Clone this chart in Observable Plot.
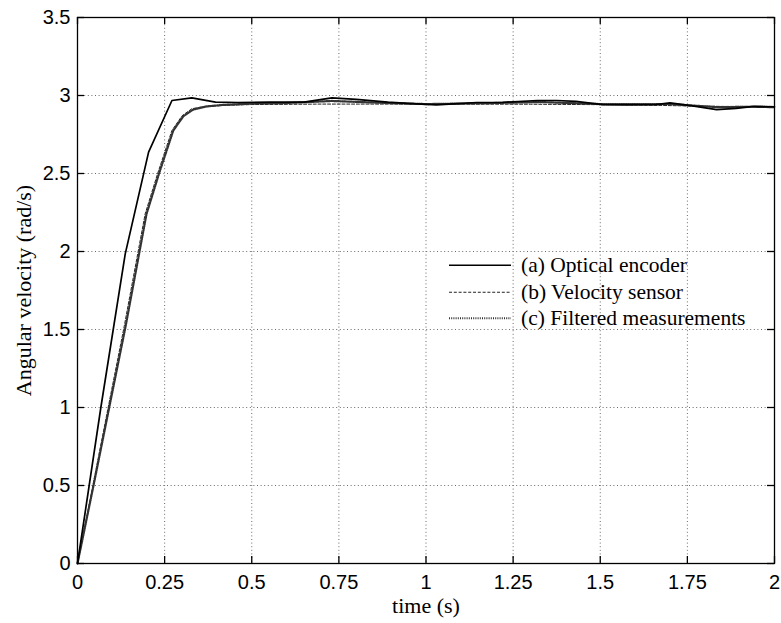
<!DOCTYPE html>
<html>
<head>
<meta charset="utf-8">
<script src="https://cdn.jsdelivr.net/npm/d3@7"></script>
<script src="https://cdn.jsdelivr.net/npm/@observablehq/plot@0.6"></script>
<style>
  html, body { margin: 0; padding: 0; background: #fff; }
  #wrap { position: relative; width: 781px; height: 623px; }
  #legend { position: absolute; left: 449px; top: 252px; font-family: "Liberation Serif", serif; font-size: 21.5px; color: #000; }
  #legend .row { position: relative; height: 26.5px; }
  #legend svg { position: absolute; left: 0; top: 0; }
  #legend span { position: absolute; left: 72px; top: 0; line-height: 26.5px; white-space: nowrap; }
</style>
</head>
<body>
<div id="wrap"></div>
<script>
// ---- data ----
const xTicks = [0, 0.25, 0.5, 0.75, 1, 1.25, 1.5, 1.75, 2];
const yTicks = [0, 0.5, 1, 1.5, 2, 2.5, 3, 3.5];

const encoderT = [0, 0.067, 0.137, 0.204, 0.271, 0.328, 0.396, 0.46, 0.55, 0.65, 0.73, 0.8, 0.89, 0.96, 1.03, 1.09, 1.146, 1.22, 1.32, 1.375, 1.43, 1.507, 1.58, 1.66, 1.70, 1.76, 1.834, 1.89, 1.94, 2.0];
const encoderV = [0, 1.0, 1.985, 2.637, 2.968, 2.985, 2.957, 2.955, 2.958, 2.958, 2.985, 2.975, 2.957, 2.948, 2.94, 2.948, 2.955, 2.956, 2.968, 2.968, 2.962, 2.942, 2.94, 2.942, 2.953, 2.935, 2.91, 2.918, 2.93, 2.928];

const sensorT = [0, 0.044, 0.088, 0.134, 0.194, 0.23, 0.271, 0.3, 0.328, 0.36, 0.414, 0.5, 0.7, 1.0, 1.3, 1.6, 1.75, 1.85, 2.0];
const sensorV = [0, 0.5, 1.0, 1.52, 2.24, 2.5, 2.776, 2.87, 2.915, 2.928, 2.936, 2.942, 2.945, 2.945, 2.944, 2.94, 2.933, 2.93, 2.93];

const filteredT = [0, 0.046, 0.091, 0.138, 0.198, 0.234, 0.275, 0.304, 0.332, 0.37, 0.42, 0.5, 0.6, 0.73, 0.85, 1.0, 1.15, 1.33, 1.5, 1.7, 1.84, 1.94, 2.0];
const filteredV = [0, 0.5, 1.0, 1.52, 2.24, 2.5, 2.776, 2.868, 2.91, 2.93, 2.94, 2.948, 2.952, 2.965, 2.955, 2.945, 2.95, 2.958, 2.945, 2.945, 2.925, 2.928, 2.925];

const seriesNames = ["(a) Optical encoder", "(b) Velocity sensor", "(c) Filtered measurements"];
const xLabel = "time (s)";
const yLabel = "Angular velocity (rad/s)";

// ---- build tables ----
const encoder = encoderT.map((t, i) => ({t, v: encoderV[i]}));
const sensor = sensorT.map((t, i) => ({t, v: sensorV[i]}));
const filtered = filteredT.map((t, i) => ({t, v: filteredV[i]}));

const W = 781, H = 623;
const mL = 77, mR = 7, mT = 17, mB = 60;
const tickPx = 7;
const xDom = [0, 2], yDom = [0, 3.5];
const tickLenY = tickPx / (H - mT - mB) * (yDom[1] - yDom[0]);
const tickLenX = tickPx / (W - mL - mR) * (xDom[1] - xDom[0]);

const gridStyle = {stroke: "#6a6a6a", strokeOpacity: 1, strokeWidth: 1, strokeDasharray: "1 2.6"};
const serif = "'Liberation Serif', 'Times New Roman', serif";

const chart = Plot.plot({
  width: W, height: H,
  marginLeft: mL, marginRight: mR, marginTop: mT, marginBottom: mB,
  style: {fontFamily: "'Liberation Sans', Arial, sans-serif", fontSize: "20px", color: "#000", background: "#fff"},
  x: {domain: xDom},
  y: {domain: yDom},
  marks: [
    Plot.gridX(xTicks, gridStyle),
    Plot.gridY(yTicks, gridStyle),
    Plot.axisX(xTicks, {tickSize: 0, tickPadding: 11, tickFormat: d => String(d), label: null, fontSize: 20}),
    Plot.axisY(yTicks, {tickSize: 0, tickPadding: 7, tickFormat: d => String(d), label: null, fontSize: 20}),
    Plot.ruleX(xTicks, {x: d => d, y1: yDom[0], y2: yDom[0] + tickLenY, stroke: "#000", strokeWidth: 1.3}),
    Plot.ruleX(xTicks, {x: d => d, y1: yDom[1] - tickLenY, y2: yDom[1], stroke: "#000", strokeWidth: 1.3}),
    Plot.ruleY(yTicks, {y: d => d, x1: xDom[0], x2: xDom[0] + tickLenX, stroke: "#000", strokeWidth: 1.3}),
    Plot.ruleY(yTicks, {y: d => d, x1: xDom[1] - tickLenX, x2: xDom[1], stroke: "#000", strokeWidth: 1.3}),
    Plot.line(sensor, {x: "t", y: "v", stroke: "#222", strokeWidth: 1, strokeDasharray: "3 1.8"}),
    Plot.line(filtered, {x: "t", y: "v", stroke: "#333", strokeWidth: 2.2, strokeDasharray: "1 1.2"}),
    Plot.line(encoder, {x: "t", y: "v", stroke: "#000", strokeWidth: 1.7}),
    Plot.frame({stroke: "#000", strokeWidth: 1.3}),
    Plot.text([xLabel], {frameAnchor: "bottom", dy: 49, fontFamily: serif, fontSize: 22, fill: "#000"}),
    Plot.text([yLabel], {frameAnchor: "left", textAnchor: "middle", dx: -54, rotate: -90, fontFamily: serif, fontSize: 22, fill: "#000"})
  ]
});

const wrap = document.getElementById("wrap");
wrap.appendChild(chart);

// ---- legend overlay ----
const legendStyles = [
  {stroke: "#000", width: 1.7, dash: null},
  {stroke: "#222", width: 1, dash: "3 1.8"},
  {stroke: "#333", width: 2.2, dash: "1 1.2"}
];
const legend = document.createElement("div");
legend.id = "legend";
seriesNames.forEach((name, i) => {
  const row = document.createElement("div");
  row.className = "row";
  const s = legendStyles[i];
  row.innerHTML = `<svg width="64" height="26.5"><line x1="0" x2="62" y1="13.25" y2="13.25" stroke="${s.stroke}" stroke-width="${s.width}" ${s.dash ? `stroke-dasharray="${s.dash}"` : ""}/></svg><span>${name}</span>`;
  legend.appendChild(row);
});
wrap.appendChild(legend);
</script>
</body>
</html>
